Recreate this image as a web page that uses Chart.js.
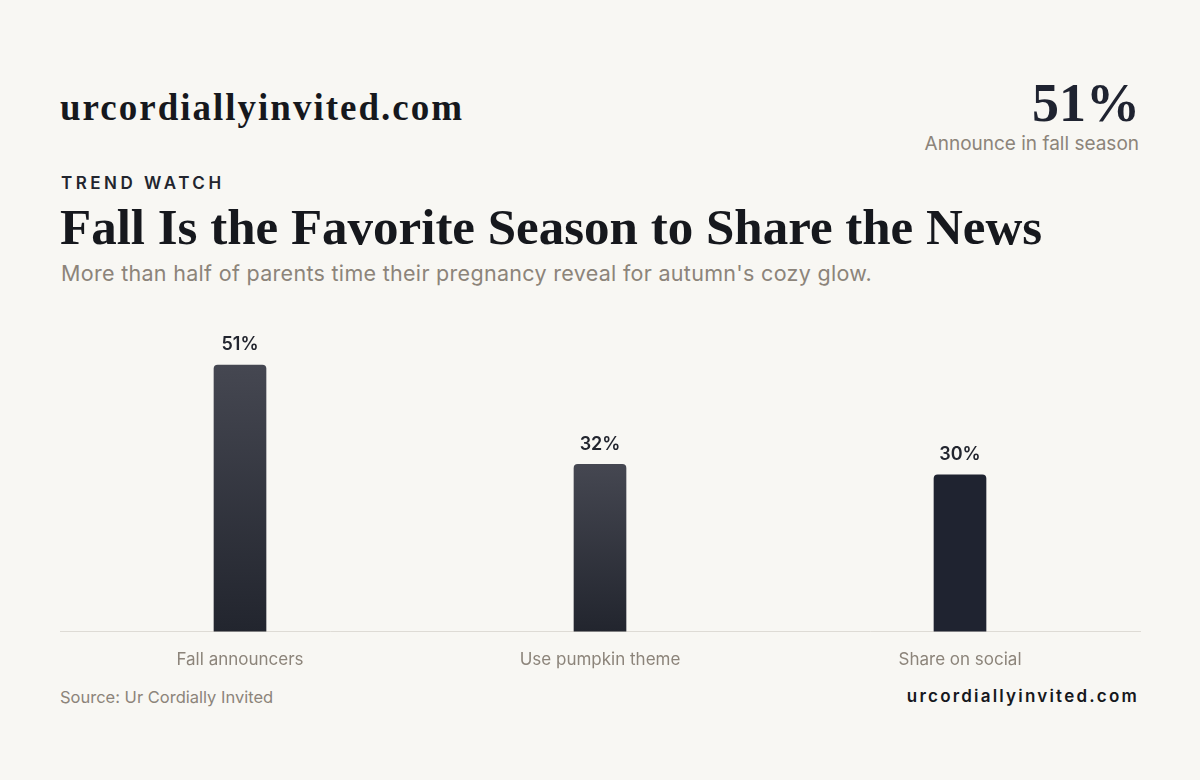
<!DOCTYPE html>
<html><head><meta charset="utf-8">
<script src="https://cdn.jsdelivr.net/npm/chart.js@4"></script>
<style>
body{margin:0;width:1200px;height:780px;background:#f8f7f3;position:relative;font-family:Inter,sans-serif;overflow:hidden}
.abs{position:absolute;white-space:nowrap}
#brand{left:60px;top:86px;font:bold 37px "Liberation Serif",serif;color:#16181d;letter-spacing:2px}
#big{right:60px;top:72px;font:bold 54px "Liberation Serif",serif;color:#1f2330}
#bigl{right:61px;top:132px;font-size:19px;color:#8c847a}
#kick{left:61px;top:173px;font-size:17px;font-weight:600;letter-spacing:3.5px;color:#22252e}
#title{left:60px;top:198px;font:bold 51px "Liberation Serif",serif;color:#16181d}
#sub{left:61px;top:260px;font-size:21.5px;color:#8c847a;letter-spacing:0.3px}
#src{left:60px;top:687px;font-size:16.5px;color:#8c847a}
#foot{right:61px;top:686px;font-size:17px;font-weight:600;letter-spacing:2.2px;color:#16181d}
#wrap{left:0;top:300px;width:1200px;height:380px}
</style></head><body>
<div class="abs" id="brand">urcordiallyinvited.com</div>
<div class="abs" id="big">51%</div>
<div class="abs" id="bigl">Announce in fall season</div>
<div class="abs" id="kick">TREND WATCH</div>
<div class="abs" id="title">Fall Is the Favorite Season to Share the News</div>
<div class="abs" id="sub">More than half of parents time their pregnancy reveal for autumn's cozy glow.</div>
<div class="abs" id="wrap"><canvas id="c" width="1200" height="380"></canvas></div>
<div class="abs" id="src">Source: Ur Cordially Invited</div>
<div class="abs" id="foot">urcordiallyinvited.com</div>
<script>
const categories=["Fall announcers","Use pumpkin theme","Share on social"];
const values=[51,32,30];
const valueLabels=["51%","32%","30%"];
const labelPlugin={id:'lbl',afterDatasetsDraw(ch){const c=ch.ctx;const m=ch.getDatasetMeta(0);c.save();c.font='600 18px Inter';c.fillStyle='#22252e';c.textAlign='center';c.textBaseline='bottom';m.data.forEach((b,i)=>c.fillText(valueLabels[i],b.x,b.y-11));c.restore();}};
new Chart(document.getElementById('c'),{type:'bar',
data:{labels:categories,datasets:[{data:values,barThickness:52,borderRadius:{topLeft:4,topRight:4},borderSkipped:'bottom',
backgroundColor(ctx){const ch=ctx.chart;const a=ch.chartArea;if(!a)return '#1f2330';if(ctx.dataIndex===2)return '#1f2330';
const top=ch.scales.y.getPixelForValue(values[ctx.dataIndex]);const g=ch.ctx.createLinearGradient(0,top,0,a.bottom);g.addColorStop(0,'#454751');g.addColorStop(1,'#22252e');return g;}}]},
options:{responsive:false,animation:false,layout:{padding:{left:60,right:60,top:18}},
plugins:{legend:{display:false},tooltip:{enabled:false}},
scales:{y:{min:0,max:60,display:false},
x:{grid:{display:false},border:{color:'#dedbd5'},ticks:{color:'#8c847a',font:{size:17,family:'Inter'},padding:10,maxRotation:0}}}},
plugins:[labelPlugin]});
</script>
</body></html>
